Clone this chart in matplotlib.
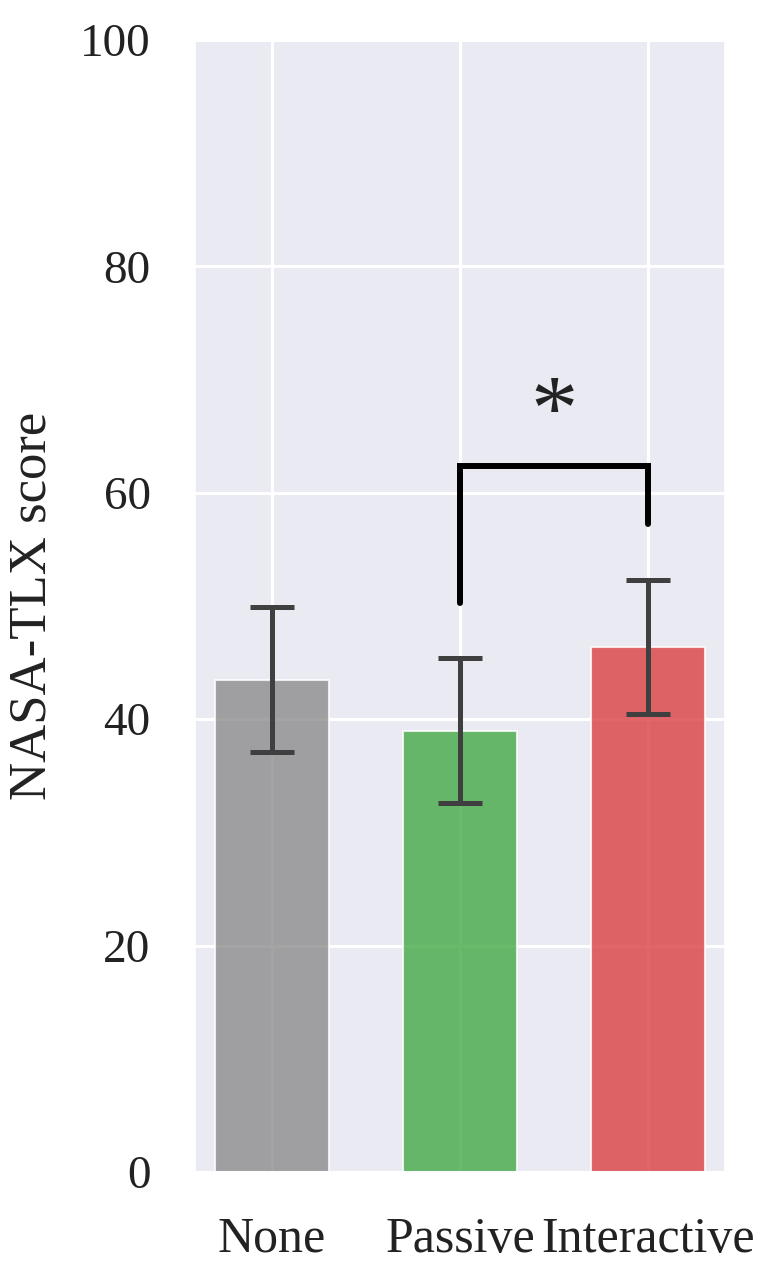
import matplotlib.pyplot as plt
import seaborn as sns
import numpy as np

# data
conditions = ['None', 'Passive', 'Interactive']
means = [43.5, 39.0, 46.4]
errs = [6.4, 6.4, 5.9]
colors = ['#8d8d8d', '#44aa46', '#da4043']

sig_pair = (1, 2)
sig_y = 62.4
sig_legs = [50.3, 57.2]
sig_label = '*'

sns.set_theme(style='darkgrid', rc={'grid.linewidth': 2.2})
plt.rcParams['font.family'] = ['Liberation Serif', 'DejaVu Serif']

fig = plt.figure(figsize=(7.66, 12.77), dpi=100)
ax = fig.add_axes([0.2546, 0.0822, 0.6919, 0.8865])

x = np.arange(len(conditions))
ax.bar(x, means, width=0.61, color=colors, alpha=0.8,
       edgecolor=[(1, 1, 1, 0.08)] * 3, linewidth=1.5, zorder=2)
ax.errorbar(x, means, yerr=errs, fmt='none', ecolor='#3f3f3f',
            elinewidth=3.6, capsize=16, capthick=3.6, zorder=3)

# significance bracket
x1, x2 = sig_pair
ax.plot([x1, x1, x2, x2], [sig_legs[0], sig_y, sig_y, sig_legs[1]],
        color='black', lw=4.3, solid_capstyle='round',
        solid_joinstyle='miter', zorder=4)
ax.text((x1 + x2) / 2, sig_y + 0.6, sig_label, ha='center', va='bottom',
        fontsize=68, color='#222222')

ax.set_xlim(-0.41, 2.41)
ax.set_ylim(0, 100)
ax.set_yticks([0, 20, 40, 60, 80, 100])
ax.set_xticks(x)
ax.set_xticklabels(conditions)
ax.tick_params(axis='y', labelsize=34, colors='#222222', pad=26)
ax.tick_params(axis='x', labelsize=36, colors='#222222', pad=26)
ax.set_ylabel('NASA-TLX score', fontsize=38, color='#222222')
ax.yaxis.set_label_coords(-0.262, 0.5)

fig.savefig('out.png', dpi=100)
